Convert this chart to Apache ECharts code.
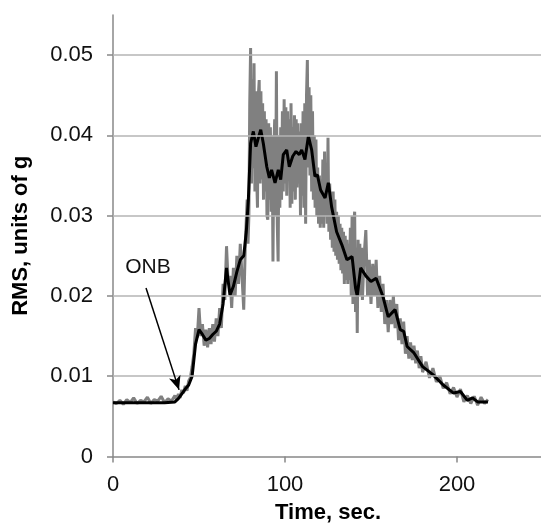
<!DOCTYPE html>
<html>
<head>
<meta charset="utf-8">
<script src="https://cdn.jsdelivr.net/npm/echarts@6/dist/echarts.min.js"></script>
<style>
  html, body { margin: 0; padding: 0; background: #fff; }
  #chart { width: 541px; height: 524px; }
</style>
</head>
<body>
<div id="chart"></div>
<script>
// raw RMS trace (grey), [time sec, RMS g]
var rawTrace = [
  [0,0.0068],[2,0.0066],[4,0.0070],[6,0.0065],[8,0.0071],[10,0.0067],[12,0.0073],[14,0.0066],
  [16,0.0070],[18,0.0068],[20,0.0074],[22,0.0066],[24,0.0071],[26,0.0069],[28,0.0075],[30,0.0067],
  [32,0.0072],[34,0.0069],[36,0.0076],[37,0.0070],[38,0.0078],[39,0.0073],[40,0.0083],[41,0.0079],
  [42,0.0088],[43,0.0082],[44,0.0094],[45,0.0098],[46,0.0112],[47,0.0128],[48,0.0160],[49,0.0148],
  [50,0.0185],[51,0.0150],[52,0.0165],[53,0.0138],[54,0.0158],[55,0.0136],[56,0.0160],[57,0.0140],
  [58,0.0165],[59,0.0143],[60,0.0172],[61,0.0150],[62,0.0185],[63,0.0160],[64,0.0215],[65,0.0195],
  [66,0.0262],[67,0.0215],[68,0.0225],[69,0.0185],[70,0.0235],[71,0.0200],[72,0.0250],[73,0.0215],
  [74,0.0265],[75,0.0225],[76,0.0183],[77,0.0270],
  [78,0.0320],[78.5,0.0265],[79,0.0300],[79.5,0.0440],[80,0.0509],[80.5,0.0340],[81,0.0470],[81.5,0.0359],
  [82,0.0490],[82.5,0.0330],[83,0.0455],[83.5,0.0350],[84,0.0310],[84.5,0.0450],[85,0.0469],[85.5,0.0340],
  [86,0.0455],[86.5,0.0345],[87,0.0440],[87.5,0.0320],[88,0.0430],[88.5,0.0330],[89,0.0420],[89.5,0.0300],
  [90,0.0295],[90.5,0.0415],[91,0.0320],[91.5,0.0410],[92,0.0305],[92.5,0.0400],[93,0.0243],[93.5,0.0380],
  [94,0.0420],[94.5,0.0300],[95,0.0480],[95.5,0.0290],[96,0.0243],[96.5,0.0400],[97,0.0310],[97.5,0.0410],
  [98,0.0320],[98.5,0.0430],[99,0.0330],[99.5,0.0445],[100,0.0340],[100.5,0.0435],[101,0.0325],[101.5,0.0430],
  [102,0.0350],[102.5,0.0420],[103,0.0310],[103.5,0.0440],[104,0.0315],[104.5,0.0410],[105,0.0330],[105.5,0.0425],
  [106,0.0320],[106.5,0.0420],[107,0.0335],[107.5,0.0415],[108,0.0340],[108.5,0.0405],[109,0.0300],[109.5,0.0415],
  [110,0.0325],[110.5,0.0430],[111,0.0310],[111.5,0.0440],[112,0.0290],[112.5,0.0450],[113,0.0494],[113.5,0.0360],
  [114,0.0460],[114.5,0.0350],[115,0.0450],[115.5,0.0330],[116,0.0430],[116.5,0.0320],[117,0.0400],[117.5,0.0310],
  [118,0.0395],[118.5,0.0300],[119,0.0360],[119.5,0.0290],[120,0.0350],[120.5,0.0285],[121,0.0345],[121.5,0.0290],
  [122,0.0370],[122.5,0.0285],[123,0.0380],[123.5,0.0300],[124,0.0350],[124.5,0.0290],[125,0.0397],[125.5,0.0280],
  [126,0.0340],[126.5,0.0270],[127,0.0330],[127.5,0.0260],[128,0.0330],[128.5,0.0255],[129,0.0320],[129.5,0.0250],
  [130,0.0305],[130.5,0.0245],[131,0.0300],[131.5,0.0240],[132,0.0290],[132.5,0.0232],[133,0.0285],[133.5,0.0228],
  [134,0.0280],[134.5,0.0215],[135,0.0275],[135.5,0.0220],[136,0.0270],[136.5,0.0215],[137,0.0265],[137.5,0.0220],
  [138,0.0285],[138.5,0.0200],[139,0.0300],[139.5,0.0190],[140,0.0290],[140.5,0.0305],[141,0.0180],[141.5,0.0260],
  [142,0.0154],[142.5,0.0270],[143,0.0200],[143.5,0.0265],[144,0.0200],[144.5,0.0260],[145,0.0195],
  [146,0.0250],[147,0.0282],[148,0.0200],[149,0.0245],[150,0.0190],[151,0.0240],[152,0.0200],[153,0.0245],
  [154,0.0185],[155,0.0225],[156,0.0180],[157,0.0215],[158,0.0165],[159,0.0195],[160,0.0155],[161,0.0195],
  [162,0.0165],[163,0.0200],[164,0.0160],[165,0.0190],[166,0.0145],[167,0.0172],[168,0.0140],[169,0.0168],
  [170,0.0128],[171,0.0150],[172,0.0122],[173,0.0142],[174,0.0120],[175,0.0138],[176,0.0116],[177,0.0132],
  [178,0.0110],[179,0.0125],[180,0.0105],[182,0.0118],[184,0.0098],[186,0.0110],[188,0.0093],[190,0.0100],
  [192,0.0085],[194,0.0092],[196,0.0078],[198,0.0086],[200,0.0074],[202,0.0084],[204,0.0068],[206,0.0076],
  [208,0.0066],[210,0.0075],[212,0.0064],[214,0.0074],[216,0.0066],[218,0.0071]
];

// smoothed RMS (black)
var smoothTrace = [
  [0,0.0067],[10,0.0067],[20,0.0067],[30,0.0067],[36,0.0068],[38,0.0072],[40,0.0078],[42,0.0084],
  [44,0.0089],[46,0.0100],[48,0.0140],[50,0.0158],[52,0.0152],[54,0.0145],[56,0.0147],[58,0.0152],
  [60,0.0156],[62,0.0165],[64,0.0190],[66,0.0235],[68,0.0201],[70,0.0212],[72,0.0230],[74,0.0245],
  [76,0.0250],[77.5,0.0280],[78.7,0.0320],[80,0.0390],[81.6,0.0405],[83.1,0.0386],[84.5,0.0397],
  [85.9,0.0407],[87.4,0.0390],[89.4,0.0361],[90.9,0.0347],[92.2,0.0357],[94.2,0.0341],[96.1,0.0357],
  [97.5,0.0345],[99,0.0376],[101,0.0382],[102.5,0.0361],[104.5,0.0374],[106.4,0.0380],[108.3,0.0376],
  [109.7,0.0382],[111.6,0.0370],[113.6,0.0399],[115.5,0.0382],[117.4,0.0349],[118.8,0.0351],[120.7,0.0332],
  [123.3,0.0322],[125.2,0.0341],[127.1,0.0311],[130,0.0280],[133,0.0264],[136,0.0245],[139,0.0249],
  [141,0.0210],[142,0.0200],[144,0.0235],[147,0.0225],[150,0.0218],[153,0.0222],[157,0.0199],[160,0.0174],
  [164,0.0183],[167,0.0158],[169,0.0156],[171,0.0137],[175,0.0129],[180,0.0112],[186,0.0102],[192,0.0089],
  [198,0.0079],[202,0.0081],[206,0.0070],[209,0.0073],[212,0.0068],[218,0.0068]
];

var yTicks = [0.01, 0.02, 0.03, 0.04, 0.05];
var onbLabel = { text: "ONB", at: [20.3, 0.0236] };
var onbArrow = { from: [19.2, 0.0210], to: [38.4, 0.0083] };

var chart = echarts.init(document.getElementById("chart"), null, { renderer: "canvas" });
var font = "Liberation Sans, Arial, sans-serif";

chart.setOption({
  animation: false,
  backgroundColor: "#fff",
  grid: { left: 113, right: -2, top: 15, bottom: 67.5, outerBoundsMode: "none", containLabel: false },
  xAxis: {
    type: "value",
    min: 0,
    max: 250,
    interval: 100,
    name: "Time, sec.",
    nameLocation: "middle",
    nameGap: 45,
    nameTextStyle: { fontFamily: font, fontSize: 22, fontWeight: "bold", color: "#000" },
    axisLine: { show: true, lineStyle: { color: "#888", width: 1.5 } },
    axisTick: { show: true, length: 6, lineStyle: { color: "#888", width: 1.5 } },
    axisLabel: { fontFamily: font, fontSize: 22, color: "#111", margin: 17, showMaxLabel: false },
    splitLine: { show: false }
  },
  yAxis: {
    type: "value",
    min: 0,
    max: 0.055,
    interval: 0.01,
    name: "RMS, units of g",
    nameLocation: "middle",
    nameGap: 81,
    nameTextStyle: { fontFamily: font, fontSize: 22, fontWeight: "bold", color: "#000" },
    axisLine: { show: true, lineStyle: { color: "#888", width: 1.5 } },
    axisTick: { show: true, length: 6, lineStyle: { color: "#888", width: 1.5 } },
    axisLabel: {
      fontFamily: font, fontSize: 22, color: "#111", margin: 20, showMaxLabel: false,
      formatter: function (v) { return v === 0 ? "0" : v.toFixed(2); }
    },
    splitLine: { show: false }
  },
  series: [
    {
      name: "raw",
      type: "line",
      data: rawTrace,
      showSymbol: false,
      lineStyle: { color: "#808080", width: 3 },
      z: 2,
      markLine: {
        silent: true,
        symbol: "none",
        label: { show: false },
        lineStyle: { color: "#b4b4b4", width: 1.5, type: "solid" },
        data: yTicks.map(function (v) { return { yAxis: v }; })
      }
    },
    {
      name: "smoothed",
      type: "line",
      data: smoothTrace,
      showSymbol: false,
      lineStyle: { color: "#000", width: 3 },
      z: 3,
      markLine: {
        silent: true,
        symbol: ["none", "arrow"],
        symbolSize: [9, 14],
        label: { show: false },
        lineStyle: { color: "#000", width: 1.5, type: "solid" },
        data: [[{ coord: onbArrow.from }, { coord: onbArrow.to }]]
      },
      markPoint: {
        silent: true,
        symbol: "circle",
        symbolSize: 0,
        label: {
          show: true, formatter: onbLabel.text, position: "inside",
          fontFamily: font, fontSize: 21, color: "#111"
        },
        data: [{ coord: onbLabel.at }]
      }
    }
  ]
});
</script>
</body>
</html>
